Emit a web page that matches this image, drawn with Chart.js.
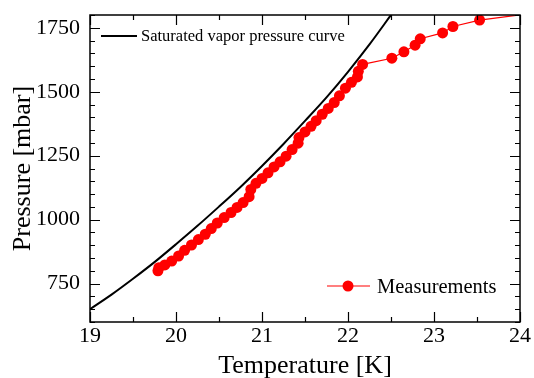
<!DOCTYPE html>
<html>
<head>
<meta charset="utf-8">
<script src="https://cdn.jsdelivr.net/npm/chart.js@4"></script>
<style>
  html, body { margin: 0; padding: 0; background: #fff; }
  #wrap { width: 534px; height: 378px; position: relative; }
</style>
</head>
<body>
<div id="wrap"><canvas id="myChart"></canvas></div>
<script>
// saturated vapor pressure curve
var curveT = [19.0, 19.25, 19.5, 19.75, 20.0, 20.25, 20.5, 20.75, 21.0, 21.25, 21.5, 21.75, 22.0, 22.25, 22.5];
var curveP = [650, 707, 769, 834, 904, 976, 1051, 1128, 1210, 1296, 1386, 1478, 1578, 1685, 1800];

// measured points
var measT = [19.79, 19.80, 19.87, 19.95, 20.03, 20.10, 20.18, 20.26, 20.34, 20.41, 20.48, 20.56, 20.64, 20.71,
  20.78, 20.85, 20.87, 20.93, 21.00, 21.07, 21.14, 21.21, 21.28, 21.35, 21.42, 21.43, 21.50, 21.57, 21.63,
  21.70, 21.77, 21.84, 21.90, 21.97, 22.04, 22.11, 22.12, 22.17, 22.51, 22.65, 22.78, 22.84, 23.10, 23.22,
  23.53, 24.40];
var measP = [800, 812, 823, 838, 858, 880, 901, 922, 943, 965, 987, 1008, 1028, 1048,
  1067, 1090, 1118, 1142, 1161, 1183, 1206, 1226, 1248, 1274, 1299, 1321, 1343, 1365, 1387,
  1412, 1435, 1458, 1484, 1514, 1537, 1558, 1580, 1607, 1631, 1656, 1682, 1707, 1730, 1755,
  1780, 1818];

var xTicks = [19, 20, 21, 22, 23, 24];
var yTicks = [750, 1000, 1250, 1500, 1750];
var seriesNames = ['Saturated vapor pressure curve', 'Measurements'];

var serif = "'Liberation Serif', 'Times New Roman', serif";

function toPoints(xs, ys) {
  return xs.map(function (x, i) { return { x: x, y: ys[i] }; });
}

// box around the plot with inward ticks on all four sides
var frame = {
  id: 'frame',
  afterDraw(chart) {
    var ctx = chart.ctx, a = chart.chartArea;
    var xs = chart.scales.x, ys = chart.scales.y;
    ctx.save();
    ctx.strokeStyle = '#000';
    ctx.lineWidth = 1.5;
    ctx.strokeRect(a.left, a.top, a.right - a.left, a.bottom - a.top);
    ctx.lineWidth = 1.2;
    ctx.beginPath();
    for (var t = xs.min; t <= xs.max + 1e-9; t += 0.5) {
      var px = Math.round(xs.getPixelForValue(t)) + 0.5;
      var len = xTicks.indexOf(t) >= 0 ? 10 : 5;
      ctx.moveTo(px, a.bottom); ctx.lineTo(px, a.bottom - len);
      ctx.moveTo(px, a.top); ctx.lineTo(px, a.top + len);
    }
    for (var p = ys.min; p <= ys.max; p += 50) {
      var py = Math.round(ys.getPixelForValue(p)) + 0.5;
      var l = yTicks.indexOf(p) >= 0 ? 10 : 5;
      ctx.moveTo(a.left, py); ctx.lineTo(a.left + l, py);
      ctx.moveTo(a.right, py); ctx.lineTo(a.right - l, py);
    }
    ctx.stroke();
    ctx.restore();
  }
};

// the two legend entries sit in different corners
var legends = {
  id: 'legends',
  afterDraw(chart) {
    var ctx = chart.ctx, a = chart.chartArea;
    var ds = chart.data.datasets;
    ctx.save();
    ctx.textBaseline = 'middle';
    ctx.textAlign = 'left';
    ctx.fillStyle = '#000';

    // top left: black line
    ctx.strokeStyle = ds[0].borderColor;
    ctx.lineWidth = 2;
    ctx.beginPath();
    ctx.moveTo(a.left + 11, a.top + 21);
    ctx.lineTo(a.left + 47, a.top + 21);
    ctx.stroke();
    ctx.font = '16.5px ' + serif;
    ctx.fillText(ds[0].label, a.left + 51, a.top + 22);

    // bottom right: red line with marker
    var y = a.bottom - 36;
    ctx.strokeStyle = ds[1].borderColor;
    ctx.lineWidth = 1.2;
    ctx.beginPath();
    ctx.moveTo(a.right - 193, y);
    ctx.lineTo(a.right - 150, y);
    ctx.stroke();
    ctx.fillStyle = ds[1].pointBackgroundColor;
    ctx.beginPath();
    ctx.arc(a.right - 172, y, 5.5, 0, Math.PI * 2);
    ctx.fill();
    ctx.fillStyle = '#000';
    ctx.font = '20.5px ' + serif;
    ctx.fillText(ds[1].label, a.right - 143, y + 2);
    ctx.restore();
  }
};

var ctx = document.getElementById('myChart').getContext('2d');
var chart = new Chart(ctx, {
  type: 'scatter',
  data: {
    datasets: [{
      label: seriesNames[0],
      data: toPoints(curveT, curveP),
      showLine: true,
      borderColor: '#000',
      borderWidth: 2,
      pointRadius: 0,
      tension: 0.3,
      order: 1
    }, {
      label: seriesNames[1],
      data: toPoints(measT, measP),
      showLine: true,
      borderColor: '#ff0000',
      backgroundColor: '#ff0000',
      pointBackgroundColor: '#ff0000',
      pointBorderColor: '#ff0000',
      borderWidth: 1.2,
      pointRadius: 5.5,
      pointBorderWidth: 0,
      order: 0
    }]
  },
  options: {
    responsive: true,
    maintainAspectRatio: false,
    animation: false,
    devicePixelRatio: 1,
    layout: { padding: { top: 15, right: 14, left: 0, bottom: 0 } },
    plugins: {
      legend: { display: false },
      tooltip: { enabled: false }
    },
    scales: {
      x: {
        type: 'linear',
        min: 19,
        max: 24,
        afterBuildTicks(scale) { scale.ticks = xTicks.map(function (v) { return { value: v }; }); },
        afterFit(scale) {
          scale.height = 56;
          scale.paddingLeft = 0;
          scale.paddingRight = 0;
        },
        grid: { display: false, drawTicks: false },
        border: { display: false },
        ticks: {
          color: '#000',
          padding: 1,
          maxRotation: 0,
          font: { family: serif, size: 22 },
          callback: function (v) { return String(v); }
        },
        title: {
          display: true,
          text: 'Temperature [K]',
          color: '#000',
          font: { family: serif, size: 26, lineHeight: 0.92 },
          padding: { top: 0, bottom: 0 }
        }
      },
      y: {
        type: 'linear',
        min: 600,
        max: 1800,
        afterBuildTicks(scale) { scale.ticks = yTicks.map(function (v) { return { value: v }; }); },
        afterFit(scale) {
          scale.width = 90;
          scale.paddingTop = 0;
          scale.paddingBottom = 0;
        },
        grid: { display: false, drawTicks: false },
        border: { display: false },
        ticks: {
          color: '#000',
          padding: 10,
          font: { family: serif, size: 22 },
          callback: function (v) { return String(v); }
        },
        title: {
          display: true,
          text: 'Pressure [mbar]',
          color: '#000',
          font: { family: serif, size: 26, lineHeight: 0.92 },
          padding: { top: 11, bottom: 0 }
        }
      }
    }
  },
  plugins: [frame, legends]
});
</script>
</body>
</html>
